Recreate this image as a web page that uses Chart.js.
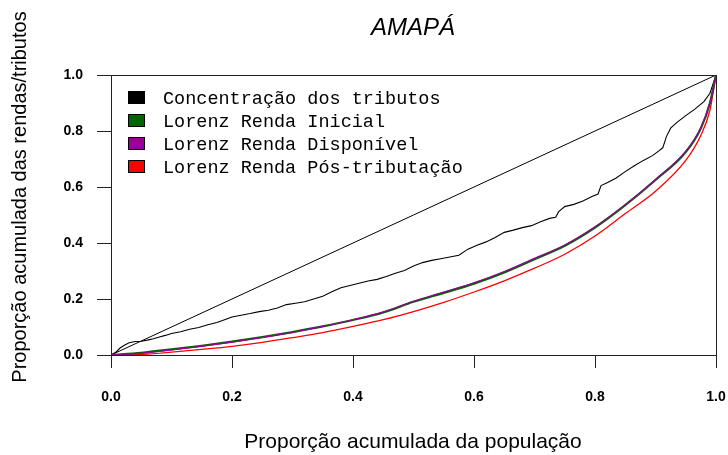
<!DOCTYPE html>
<html>
<head>
<meta charset="utf-8">
<script src="https://cdn.jsdelivr.net/npm/chart.js@4/dist/chart.umd.min.js"></script>
<style>
html,body{margin:0;padding:0;background:#fff;}
#wrap{width:728px;height:455px;position:relative;}
</style>
</head>
<body>
<div id="wrap"><canvas id="c" width="728" height="455"></canvas></div>
<script>
const chartTitle = "AMAPÁ";
const xTitle = "Proporção acumulada da população";
const yTitle = "Proporção acumulada das rendas/tributos";
const tickValues = [0, 0.2, 0.4, 0.6, 0.8, 1.0];

const equalityX = [0, 1];
const equalityY = [0, 1];

const tributosLabel = "Concentração dos tributos";
const tributosX = [0,0.008,0.015,0.022,0.03,0.04,0.05,0.06,0.07,0.08,0.09,0.1,0.115,0.13,0.145,0.16,0.175,0.19,0.2,0.215,0.23,0.245,0.26,0.275,0.29,0.305,0.32,0.335,0.35,0.365,0.38,0.395,0.41,0.425,0.44,0.455,0.47,0.485,0.5,0.515,0.53,0.545,0.56,0.575,0.59,0.605,0.62,0.635,0.65,0.665,0.68,0.695,0.71,0.725,0.735,0.74,0.75,0.765,0.78,0.795,0.805,0.81,0.82,0.835,0.85,0.865,0.88,0.895,0.905,0.912,0.918,0.925,0.935,0.95,0.965,0.98,0.99,1.0];
const tributosY = [0,0.010,0.025,0.035,0.044,0.048,0.049,0.053,0.058,0.064,0.070,0.077,0.083,0.092,0.098,0.108,0.116,0.128,0.136,0.142,0.148,0.155,0.160,0.168,0.180,0.185,0.190,0.200,0.210,0.226,0.240,0.248,0.256,0.264,0.270,0.280,0.292,0.302,0.318,0.330,0.338,0.344,0.350,0.356,0.378,0.392,0.404,0.420,0.438,0.446,0.455,0.462,0.476,0.488,0.492,0.512,0.530,0.538,0.550,0.566,0.575,0.605,0.615,0.632,0.655,0.676,0.695,0.712,0.728,0.740,0.780,0.810,0.830,0.855,0.878,0.905,0.935,1.0];

const lorenzX = [0,0.05,0.1,0.15,0.2,0.25,0.3,0.35,0.4,0.45,0.5,0.55,0.6,0.65,0.7,0.75,0.8,0.85,0.9,0.95,0.975,0.99,1.0];
const inicialLabel = "Lorenz Renda Inicial";
const inicialY = [0,0.008,0.020,0.033,0.048,0.064,0.082,0.102,0.125,0.152,0.190,0.222,0.255,0.295,0.342,0.390,0.455,0.535,0.625,0.725,0.810,0.900,1.0];
const disponivelLabel = "Lorenz Renda Disponível";
const disponivelY = [0,0.006,0.018,0.031,0.046,0.063,0.081,0.102,0.126,0.154,0.192,0.225,0.258,0.298,0.345,0.393,0.458,0.537,0.627,0.727,0.812,0.902,1.0];
const posLabel = "Lorenz Renda Pós-tributação";
const posY = [0,0.002,0.010,0.020,0.031,0.045,0.062,0.080,0.102,0.126,0.155,0.188,0.225,0.265,0.310,0.360,0.425,0.505,0.585,0.695,0.785,0.875,1.0];

function pts(xs, ys){ return xs.map((x,i)=>({x:x, y:ys[i]})); }

const legendItems = [
  {label: tributosLabel, color: "#000000"},
  {label: inicialLabel, color: "#006400"},
  {label: disponivelLabel, color: "#990099"},
  {label: posLabel, color: "#ff0000"}
];

const decor = {
  id: "decor",
  afterDraw(chart){
    const ctx = chart.ctx;
    const a = chart.chartArea;
    ctx.save();
    ctx.strokeStyle = "#222";
    ctx.lineWidth = 1;
    ctx.strokeRect(Math.round(a.left)+0.5, Math.round(a.top)+0.5, Math.round(a.right-a.left), Math.round(a.bottom-a.top));
    ctx.fillStyle = "#000";
    ctx.textAlign = "center";
    ctx.textBaseline = "alphabetic";
    ctx.font = "italic 24px 'Liberation Sans', Arial, sans-serif";
    ctx.fillText(chartTitle, 413, 35);
    ctx.font = "21px 'Liberation Sans', Arial, sans-serif";
    ctx.fillText(xTitle, 413, 448);
    ctx.save();
    ctx.translate(26, 197);
    ctx.rotate(-Math.PI/2);
    ctx.font = "20px 'Liberation Sans', Arial, sans-serif";
    ctx.fillText(yTitle, 0, 0);
    ctx.restore();
    ctx.font = "18.5px 'Liberation Mono', 'Courier New', monospace";
    ctx.textAlign = "left";
    ctx.textBaseline = "middle";
    legendItems.forEach((it, i) => {
      const cy = 98 + i*23;
      ctx.fillStyle = it.color;
      ctx.fillRect(128.5, cy-6.5, 16, 12);
      ctx.strokeStyle = "#000";
      ctx.strokeRect(128.5, cy-6.5, 16, 12);
      ctx.fillStyle = "#000";
      ctx.fillText(it.label, 163, cy+1);
    });
    ctx.restore();
  }
};

const tickFont = {family: "'Liberation Sans', Arial, sans-serif", size: 14, weight: "bold"};

new Chart(document.getElementById("c"), {
  type: "line",
  data: {
    datasets: [
      {label: "Igualdade", data: pts(equalityX, equalityY), borderColor: "#000", borderWidth: 1, pointRadius: 0, order: 5},
      {label: tributosLabel, data: pts(tributosX, tributosY), borderColor: "#000", borderWidth: 1.1, pointRadius: 0, order: 4},
      {label: posLabel, data: pts(lorenzX, posY), borderColor: "#ff0000", borderWidth: 1.3, pointRadius: 0, cubicInterpolationMode: "monotone", order: 3},
      {label: inicialLabel, data: pts(lorenzX, inicialY), borderColor: "#006400", borderWidth: 2.2, pointRadius: 0, cubicInterpolationMode: "monotone", order: 2},
      {label: disponivelLabel, data: pts(lorenzX, disponivelY), borderColor: "#990099", borderWidth: 1.2, pointRadius: 0, cubicInterpolationMode: "monotone", order: 1}
    ]
  },
  options: {
    responsive: false,
    animation: false,
    layout: {padding: {top: 75, right: 12, left: 0, bottom: 0}},
    plugins: {legend: {display: false}, tooltip: {enabled: false}, title: {display: false}},
    scales: {
      x: {
        type: "linear", min: 0, max: 1,
        afterBuildTicks(s){ s.ticks = tickValues.map(v => ({value: v})); },
        afterFit(s){ s.height = 100; s.paddingLeft = 0; s.paddingRight = 0; },
        ticks: {color: "#000", font: tickFont, padding: 21, maxRotation: 0, callback: v => v.toFixed(1)},
        grid: {drawOnChartArea: false, drawTicks: true, tickLength: 13, color: "#222", lineWidth: 1},
        border: {display: true, color: "#222", width: 1}
      },
      y: {
        type: "linear", min: 0, max: 1,
        afterBuildTicks(s){ s.ticks = tickValues.map(v => ({value: v})); },
        afterFit(s){ s.width = 111; s.paddingTop = 0; s.paddingBottom = 0; },
        ticks: {color: "#000", font: tickFont, padding: 14, callback: v => v.toFixed(1)},
        grid: {drawOnChartArea: false, drawTicks: true, tickLength: 14, color: "#222", lineWidth: 1},
        border: {display: true, color: "#222", width: 1}
      }
    }
  },
  plugins: [decor]
});
</script>
</body>
</html>
